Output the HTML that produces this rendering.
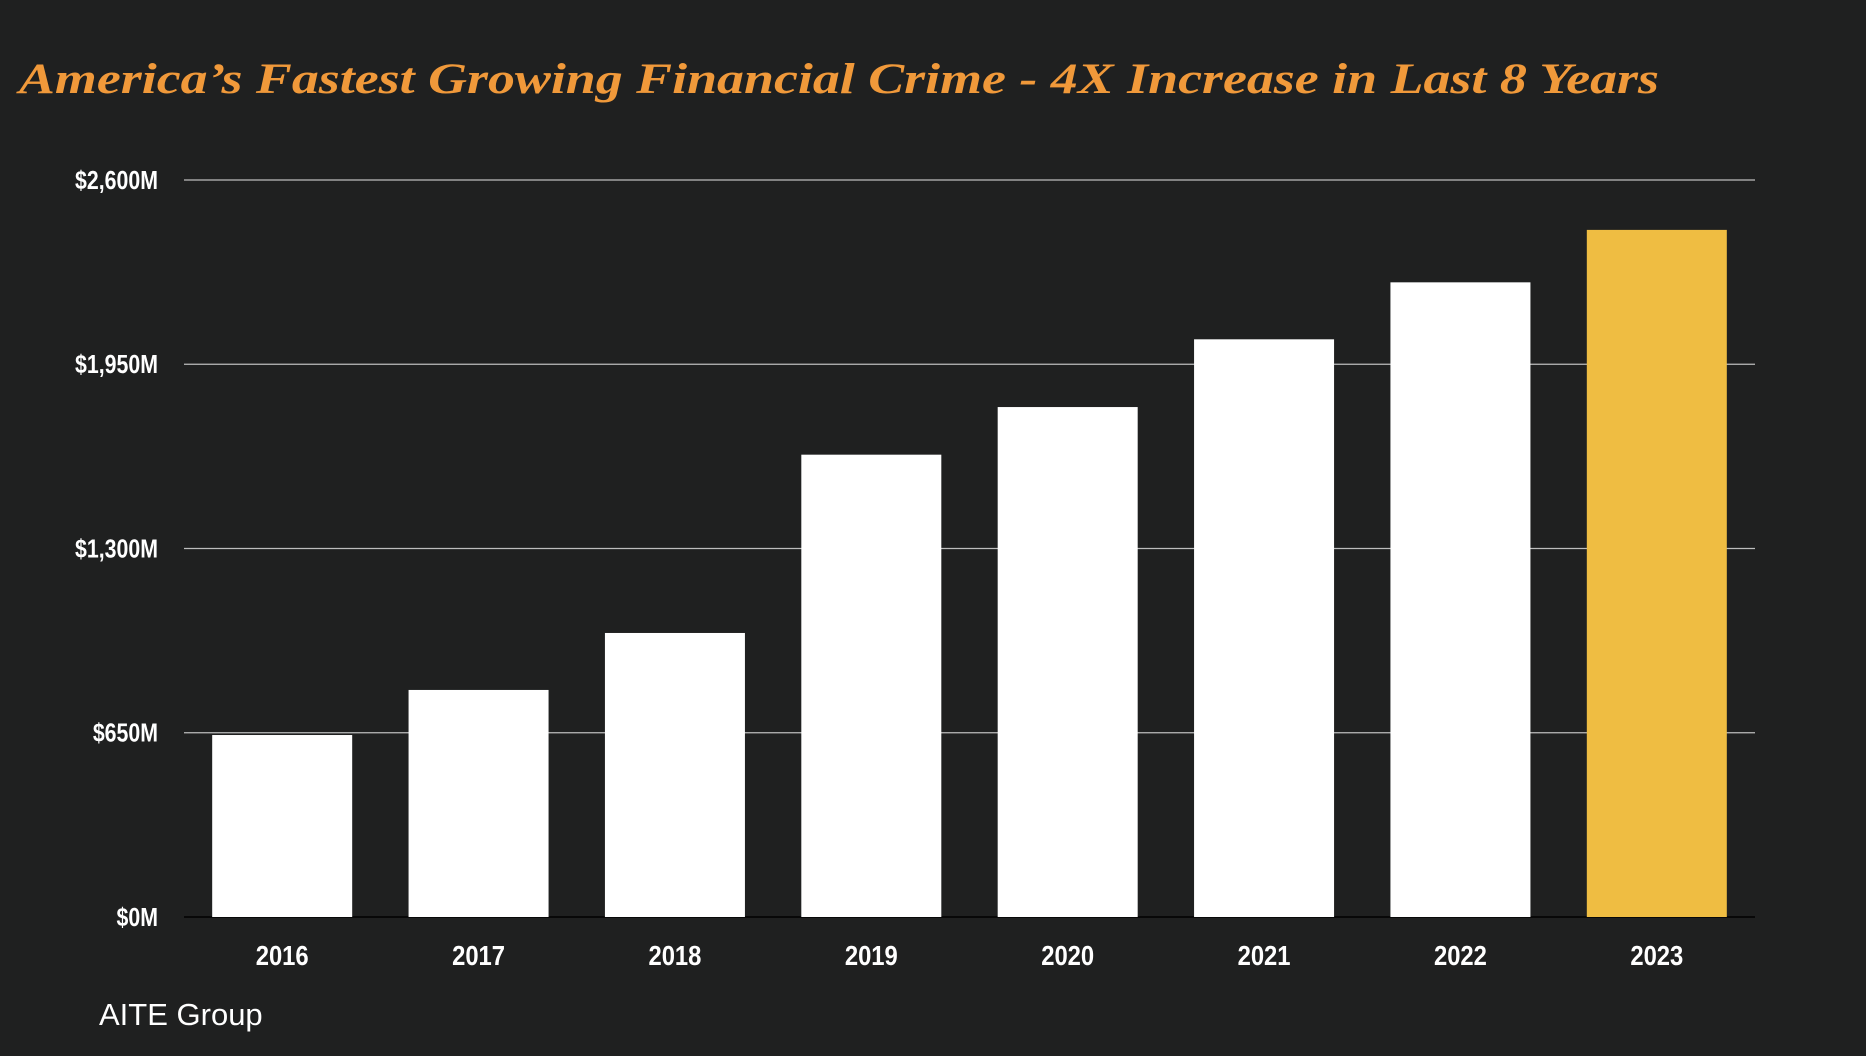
<!DOCTYPE html>
<html><head><meta charset="utf-8"><style>
html,body{margin:0;padding:0;background:#1f2020;}
svg{display:block}
</style></head><body>
<svg id="chart" width="1866" height="1056" xmlns="http://www.w3.org/2000/svg">
<rect width="1866" height="1056" fill="#1f2020"/>
<text x="19" y="93" font-family="Liberation Serif, serif" font-weight="bold" font-style="italic" font-size="43" fill="#f0993a" textLength="1640" lengthAdjust="spacingAndGlyphs">America’s Fastest Growing Financial Crime -  4X Increase in Last 8 Years</text>
<g id="grid"></g>
<g id="bars"></g>
<g id="labels"></g>
<text x="99" y="1025" font-family="Liberation Sans, sans-serif" font-size="31" fill="#ffffff">AITE Group</text>
</svg>
<script>
const categories = ["2016","2017","2018","2019","2020","2021","2022","2023"];
const values = [642, 801, 1002, 1631, 1799, 2038, 2239, 2424];
const tickValues = [0, 650, 1300, 1950, 2600];
const tickLabels = ["$0M","$650M","$1,300M","$1,950M","$2,600M"];
const NS = "http://www.w3.org/2000/svg";
const x0 = 184, x1 = 1755, yZero = 917, yTop = 180, yMax = 2600;
const y = v => yZero - (v / yMax) * (yZero - yTop);
const slot = (x1 - x0) / categories.length;
const bw = 140;
const xc = i => x0 + slot * (i + 0.5);
const grid = document.getElementById('grid');
const bars = document.getElementById('bars');
const labels = document.getElementById('labels');
function mk(tag, attrs, parent){const e=document.createElementNS(NS,tag);for(const k in attrs)e.setAttribute(k,attrs[k]);parent.appendChild(e);return e;}
tickValues.forEach((t,i)=>{
  if (t !== 0) {
    const l = mk('line',{x1:x0,x2:x1,y1:y(t),y2:y(t),stroke:'#bdbdbd','stroke-width':1.2},grid);
    
    
  }
  const tx = mk('text',{x:158,y:y(t)+9,'text-anchor':'end','font-family':'Liberation Sans, sans-serif','font-weight':'bold','font-size':26,fill:'#ffffff',transform:'translate(158 0) scale(0.82 1) translate(-158 0)'},labels);
  tx.textContent = tickLabels[i];
  
  
});
values.forEach((v,i)=>{
  const r = mk('rect',{x:xc(i)-bw/2,y:y(v),width:bw,height:yZero-y(v),fill:i===values.length-1?'#efbd42':'#ffffff'},bars);
  
  
  const cx = xc(i);
  const tx = mk('text',{x:cx,y:965,'text-anchor':'middle','font-family':'Liberation Sans, sans-serif','font-weight':'bold','font-size':28,fill:'#ffffff',transform:`translate(${cx} 0) scale(0.85 1) translate(${-cx} 0)`},labels);
  tx.textContent = categories[i];
  
  
});
const axis = mk('line',{x1:x0,x2:x1,y1:yZero,y2:yZero,stroke:'#000000','stroke-width':1.5},grid);


</script>
</body></html>
